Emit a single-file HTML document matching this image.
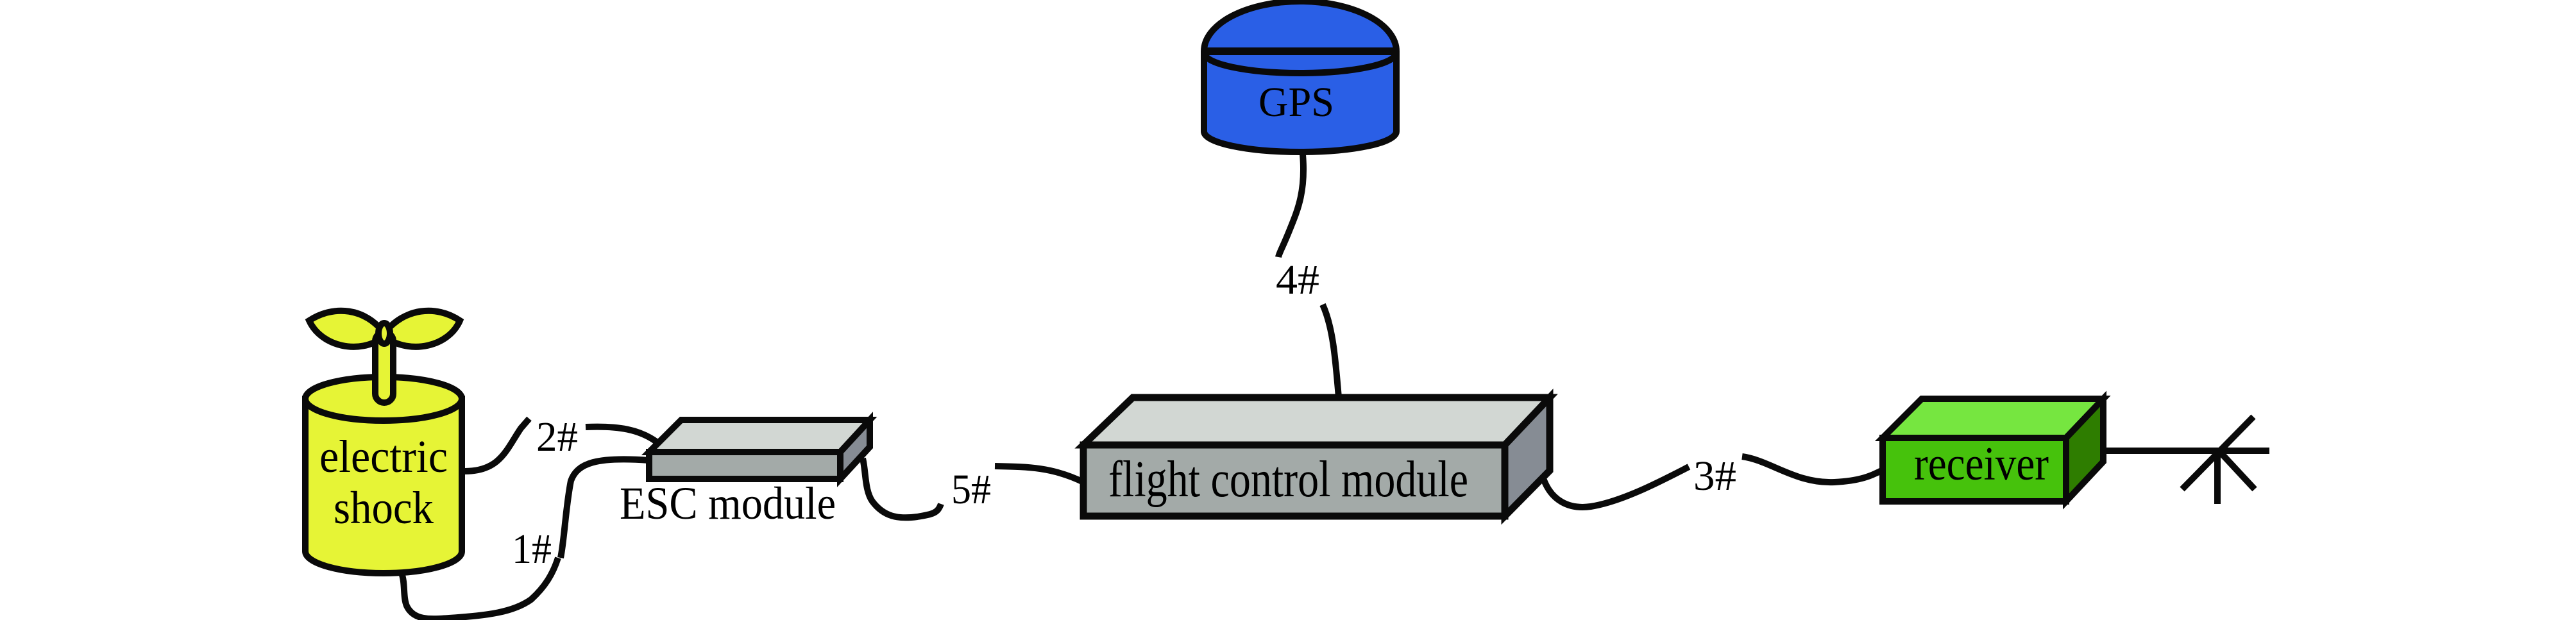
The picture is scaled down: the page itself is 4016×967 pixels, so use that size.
<!DOCTYPE html>
<html><head><meta charset="utf-8"><style>html,body{margin:0;padding:0;background:#fff}svg{display:block}</style></head>
<body>
<svg width="4016" height="967" viewBox="0 0 4016 967" xmlns="http://www.w3.org/2000/svg" font-family="'Liberation Serif', serif">
<g fill="none" stroke="#0a0a0a" stroke-width="10" stroke-linecap="butt">
<path d="M725 735 C780 735 790 700 812 668 L825 653"/>
<path d="M913 666 C960 664 1000 668 1031 695"/>
<path d="M626 894 C632 910 628 930 634 945 C645 968 670 966 700 964 C760 960 800 955 828 935 C850 915 862 895 870 870"/>
<path d="M874 870 C880 840 882 790 890 750 C900 722 930 712 1012 718"/>
<path d="M1345 715 C1350 735 1348 765 1360 782 C1378 806 1400 810 1430 806 C1455 802 1462 800 1467 786"/>
<path d="M1551 727 C1600 728 1640 728 1689 752"/>
<path d="M2031 241 C2036 300 2022 330 2010 360 C2000 385 1994 395 1993 401"/>
<path d="M2062 475 C2078 510 2082 560 2087 620"/>
<path d="M2406 746 C2418 780 2445 795 2480 790 C2530 782 2590 750 2633 728"/>
<path d="M2716 712 C2760 718 2800 755 2860 752 C2900 750 2918 742 2935 733"/>
<path d="M3243 703 L3538 703 M3457 703 L3457 786 M3402 763 L3513 650 M3462 706 L3515 763"/>
</g>
<g stroke="#0a0a0a" stroke-width="10" fill="#e6f436">
<path d="M476 622 L476 860 A122 34 0 0 0 720 860 L720 622 Z"/>
<ellipse cx="598" cy="622" rx="122" ry="34"/>
<path d="M599 520 C570 480 520 475 482 500 C500 540 560 555 599 525 C640 555 700 540 717 500 C680 475 630 480 599 520 Z"/>
<rect x="585" y="518" width="28" height="110" rx="14"/>
<ellipse cx="599" cy="520" rx="9" ry="16"/>
</g>
<text x="598" y="736" font-size="72" text-anchor="middle" textLength="200" lengthAdjust="spacingAndGlyphs">electric</text>
<text x="598" y="816" font-size="72" text-anchor="middle" textLength="156" lengthAdjust="spacingAndGlyphs">shock</text>
<g stroke="#0a0a0a" stroke-width="10" stroke-linejoin="miter">
<polygon points="1012,705 1062,655 1356,655 1310,705" fill="#d2d7d3"/>
<polygon points="1310,705 1356,655 1356,697 1310,747" fill="#868c94"/>
<rect x="1012" y="705" width="298" height="42" fill="#a3aaa8"/>
</g>
<text x="966" y="809" font-size="72" textLength="337" lengthAdjust="spacingAndGlyphs">ESC module</text>
<g stroke="#0a0a0a" stroke-width="11">
<polygon points="1689,694 1766,620 2416,620 2346,694" fill="#d2d7d3"/>
<polygon points="2346,694 2416,620 2416,734 2346,805" fill="#868c94"/>
<rect x="1689" y="694" width="657" height="111" fill="#a3aaa8"/>
</g>
<text x="1728" y="774" font-size="80" textLength="561" lengthAdjust="spacingAndGlyphs">flight control module</text>
<g stroke="#0a0a0a" stroke-width="10" fill="#2a5fe6">
<path d="M1877 80 A150 78 0 0 1 2177 80 L2177 205 A150 32 0 0 1 1877 205 Z"/>
<path d="M1877 82 A150 32 0 0 0 2177 82" fill="none"/>
<line x1="1877" y1="80" x2="2177" y2="80" stroke-width="12"/>
</g>
<text x="2021" y="181" font-size="66" text-anchor="middle" textLength="118" lengthAdjust="spacingAndGlyphs">GPS</text>
<g stroke="#0a0a0a" stroke-width="10">
<polygon points="2935,683 2996,622 3279,622 3221,683" fill="#76e640"/>
<polygon points="3221,683 3279,622 3279,720 3221,782" fill="#2e7d00"/>
<rect x="2935" y="683" width="286" height="99" fill="#46c20c"/>
</g>
<text x="2984" y="748" font-size="74" textLength="210" lengthAdjust="spacingAndGlyphs">receiver</text>
<g font-size="66">
<text x="836" y="703" textLength="65" lengthAdjust="spacingAndGlyphs">2#</text>
<text x="798" y="878" textLength="62" lengthAdjust="spacingAndGlyphs">1#</text>
<text x="1483" y="785" textLength="62" lengthAdjust="spacingAndGlyphs">5#</text>
<text x="1989" y="458" textLength="68" lengthAdjust="spacingAndGlyphs">4#</text>
<text x="2640" y="764" textLength="67" lengthAdjust="spacingAndGlyphs">3#</text>
</g>
</svg>
</body></html>
